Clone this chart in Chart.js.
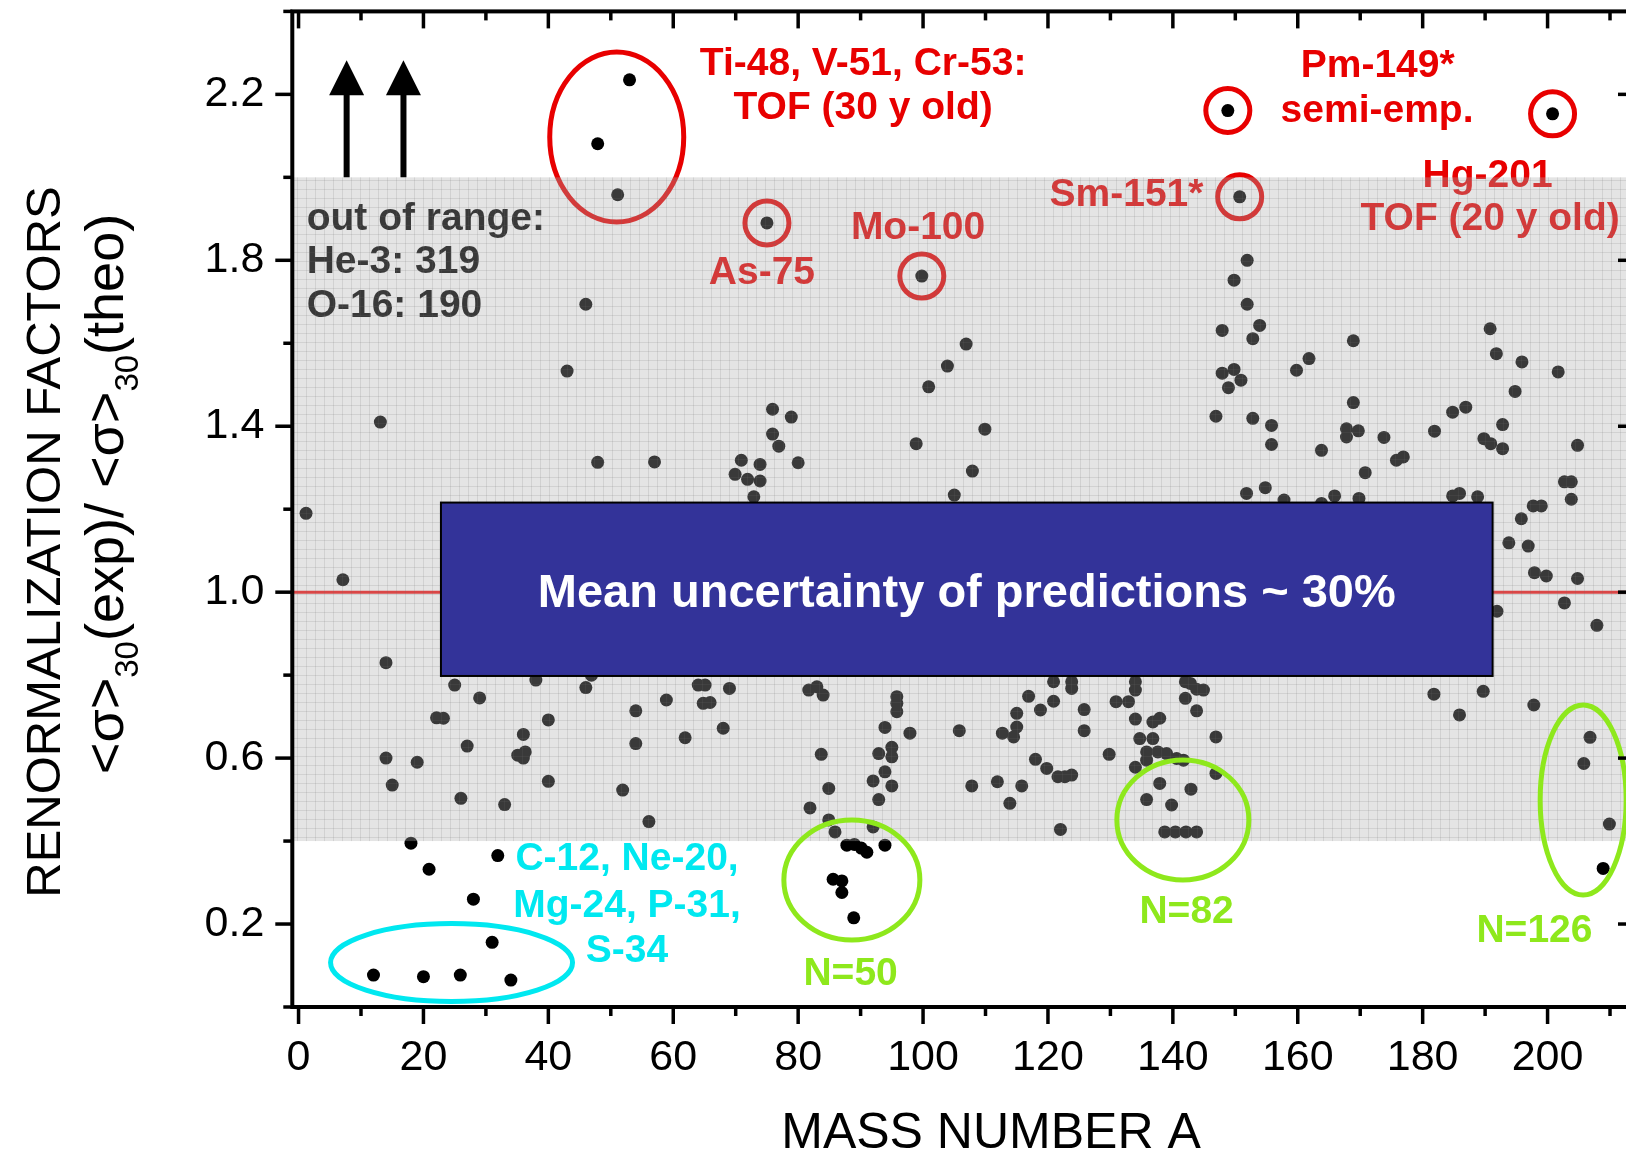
<!DOCTYPE html>
<html lang="en">
<head>
<meta charset="UTF-8">
<title>Renormalization factors vs mass number</title>
<script src="https://cdn.jsdelivr.net/npm/chart.js"></script>
<style>
  html, body { margin: 0; padding: 0; background: #fff; overflow: hidden; }
</style>
</head>
<body>
<canvas id="renormChart" width="1644" height="1154"></canvas>
<script>
// mass number A of each measured isotope
const massNumber = [
  1.2, 7.1, 12.0, 13.1, 14.0, 14.0, 15.0, 18.0, 19.0, 20.0,
  20.9, 22.1, 23.2, 25.0, 25.9, 26.0, 27.0, 28.0, 29.0, 31.0,
  31.9, 33.0, 34.0, 35.1, 36.0, 36.0, 36.3, 38.0, 40.0, 40.0,
  43.0, 46.0, 46.0, 46.9, 47.9, 47.9, 51.1, 51.9, 53.0, 54.0,
  54.0, 56.1, 57.0, 58.9, 61.9, 64.0, 64.8, 65.1, 65.9, 68.0,
  69.0, 69.9, 70.9, 71.9, 72.9, 73.9, 73.9, 75.0, 75.9, 75.9,
  76.9, 78.9, 80.0, 81.7, 81.9, 83.0, 83.7, 84.0, 84.9, 84.9,
  85.6, 85.9, 87.0, 87.0, 87.8, 88.9, 89.0, 90.1, 91.0, 92.0,
  92.0, 92.9, 92.9, 93.9, 93.9, 93.9, 95.0, 95.0, 95.0, 95.8,
  95.8, 95.8, 97.9, 98.9, 99.8, 100.9, 103.9, 105.0, 105.8, 106.9,
  107.8, 107.9, 109.9, 111.9, 112.7, 113.9, 114.5, 115.0, 115.0, 115.8,
  116.9, 118.0, 118.8, 119.8, 120.9, 120.9, 121.6, 122.0, 122.7, 123.8,
  123.8, 123.8, 125.8, 125.8, 129.8, 130.9, 132.9, 134.0, 134.0, 134.0,
  134.0, 134.7, 135.8, 135.8, 135.8, 136.8, 136.8, 137.6, 137.9, 137.9,
  138.7, 139.0, 139.8, 140.4, 140.6, 141.7, 142.0, 142.0, 142.1, 142.8,
  142.9, 143.8, 143.8, 143.8, 144.9, 146.9, 146.9, 146.9, 147.9, 147.9,
  148.8, 148.9, 149.8, 149.8, 150.7, 150.9, 151.8, 151.9, 151.9, 152.8,
  152.8, 153.9, 154.8, 155.8, 155.8, 157.8, 159.8, 161.8, 163.8, 163.8,
  165.9, 167.8, 167.8, 168.9, 168.9, 169.7, 169.8, 170.8, 173.8, 175.8,
  176.9, 181.8, 181.9, 184.8, 184.8, 185.9, 185.9, 186.9, 188.8, 189.7,
  189.8, 190.8, 190.9, 191.8, 191.9, 192.8, 192.8, 193.8, 194.8, 195.8,
  195.9, 196.9, 197.7, 197.8, 197.9, 199.0, 199.8, 200.8, 201.7, 202.7,
  202.7, 203.8, 203.8, 204.8, 204.8, 205.8, 206.8, 207.9, 208.9, 209.9
];

// <sigma>30(exp) / <sigma>30(theo), same order as massNumber
const renormFactor = [
  1.19, 1.03, 0.077, 1.41, 0.83, 0.60, 0.535, 0.395, 0.59, 0.073,
  0.332, 0.697, 0.696, 0.776, 0.077, 0.503, 0.629, 0.26, 0.745, 0.156,
  0.365, 0.488, 0.065, 0.607, 0.657, 0.60, 0.615, 0.788, 0.692, 0.544,
  1.533, 1.694, 0.77, 0.80, 2.081, 1.313, 1.958, 0.523, 2.235, 0.714,
  0.635, 0.447, 1.314, 0.74, 0.649, 0.776, 0.732, 0.776, 0.734, 0.672,
  0.768, 1.284, 1.318, 1.272, 1.23, 1.308, 1.268, 1.89, 1.441, 1.381,
  1.352, 1.422, 1.312, 0.764, 0.48, 0.772, 0.609, 0.752, 0.527, 0.451,
  0.308, 0.422, 0.304, 0.276, 0.39, 0.215, 0.392, 0.383, 0.373, 0.545,
  0.434, 0.611, 0.5, 0.674, 0.567, 0.39, 0.626, 0.603, 0.533, 0.748,
  0.732, 0.712, 0.66, 1.358, 1.762, 1.495, 1.545, 1.234, 0.666, 1.598,
  0.533, 1.292, 1.393, 0.543, 0.66, 0.491, 0.651, 0.675, 0.708, 0.533,
  0.749, 0.597, 0.716, 0.575, 0.737, 0.784, 0.555, 0.428, 0.555, 0.784,
  0.768, 0.559, 0.717, 0.666, 0.609, 0.736, 0.736, 0.784, 0.764, 0.694,
  0.578, 0.647, 0.615, 0.595, 0.5, 0.687, 0.647, 0.615, 0.696, 0.539,
  0.422, 0.611, 0.487, 0.422, 0.599, 0.595, 0.784, 0.744, 0.422, 0.78,
  0.525, 0.766, 0.714, 0.422, 0.764, 1.424, 0.651, 0.563, 1.631, 1.528,
  2.161, 1.493, 1.752, 1.537, 1.953, 1.511, 1.238, 1.8, 1.694, 1.611,
  1.419, 1.643, 1.252, 1.402, 1.356, 1.222, 1.535, 1.563, 1.342, 1.214,
  1.232, 1.394, 1.374, 1.606, 1.457, 1.389, 1.226, 1.288, 1.373, 1.318,
  1.326, 0.754, 1.388, 1.434, 1.232, 1.238, 0.704, 1.446, 1.23, 0.761,
  1.37, 1.635, 1.358, 1.575, 0.954, 1.404, 1.346, 1.119, 1.484, 1.177,
  1.555, 1.111, 1.208, 0.728, 1.047, 1.208, 1.039, 2.153, 1.531, 1.266,
  0.974, 1.266, 1.224, 1.354, 1.033, 0.587, 0.65, 0.92, 0.334, 0.441
];

// axis ticks
const xTickValues = [0, 20, 40, 60, 80, 100, 120, 140, 160, 180, 200];
const xMinorTicks = [10, 30, 50, 70, 90, 110, 130, 150, 170, 190, 210];
const yTickValues = [0.2, 0.6, 1.0, 1.4, 1.8, 2.2];
const yMinorTicks = [0.0, 0.4, 0.8, 1.2, 1.6, 2.0, 2.4];

// shaded band of "normal" factors and the mean line
const bandLow = 0.4;
const bandHigh = 2.0;
const meanFactor = 1.0;

// ringed isotopes (A, factor)
const ringedA = [75.0, 99.8, 148.8, 150.7, 200.8];
const ringedF = [1.89, 1.762, 2.161, 1.953, 2.153];

// isotopes off the top of the scale
const offScaleA = [7.7, 16.8];
const offScaleText = ['out of range:', 'He-3: 319', 'O-16: 190'];

// red notes: text, A, factor at baseline, alignment
const redNotes = [
  ['Ti-48, V-51, Cr-53:', 90.4, 2.246, 'center'],
  ['TOF (30 y old)', 90.4, 2.141, 'center'],
  ['As-75', 74.2, 1.744, 'center'],
  ['Mo-100', 99.2, 1.852, 'center'],
  ['Sm-151*', 144.9, 1.930, 'right'],
  ['Pm-149*', 172.8, 2.242, 'center'],
  ['semi-emp.', 172.7, 2.133, 'center'],
  ['Hg-201', 190.4, 1.977, 'center'],
  ['TOF (20 y old)', 190.8, 1.872, 'center']
];
const lightNotes = [
  ['C-12, Ne-20,', 52.6, 0.330],
  ['Mg-24, P-31,', 52.6, 0.218],
  ['S-34', 52.6, 0.109]
];
const shellNotes = [
  ['N=50', 88.4, 0.053],
  ['N=82', 142.2, 0.202],
  ['N=126', 197.9, 0.157]
];
// group ellipses: centre A, centre factor, radii in px
const shellEllipses = [
  [88.6, 0.306, 68, 60],
  [141.6, 0.451, 66, 60],
  [205.7, 0.499, 43, 95]
];

const FONT = '"Liberation Sans", Arial, Helvetica, sans-serif';
const RED = 'rgb(232,0,0)';
const CYAN = 'rgb(0,232,240)';
const GREEN = 'rgb(142,232,28)';

function ellipse(ctx, x, y, rx, ry, color, w) {
  ctx.save();
  ctx.strokeStyle = color;
  ctx.lineWidth = w;
  ctx.beginPath();
  ctx.ellipse(x, y, rx, ry, 0, 0, Math.PI * 2);
  ctx.stroke();
  ctx.restore();
}

function label(ctx, text, x, y, color, align, size) {
  ctx.save();
  ctx.font = 'bold ' + size + 'px ' + FONT;
  ctx.fillStyle = color;
  ctx.textAlign = align;
  ctx.textBaseline = 'alphabetic';
  ctx.fillText(text, x, y);
  ctx.restore();
}

function bandPattern(ctx) {
  const c = document.createElement('canvas');
  c.width = 9; c.height = 9;
  const g = c.getContext('2d');
  g.fillStyle = 'rgba(172,172,172,0.33)';
  g.fillRect(0, 0, 9, 9);
  g.fillStyle = 'rgba(110,110,110,0.16)';
  g.fillRect(0, 0, 9, 1);
  g.fillRect(0, 0, 1, 9);
  return ctx.createPattern(c, 'repeat');
}

const overlays = {
  id: 'overlays',
  beforeDatasetsDraw(chart) {
    const { ctx, chartArea: a, scales: { y } } = chart;
    const ym = y.getPixelForValue(meanFactor);
    ctx.save();
    ctx.strokeStyle = 'rgb(240,20,20)';
    ctx.lineWidth = 3;
    ctx.beginPath();
    ctx.moveTo(a.left, ym);
    ctx.lineTo(a.right, ym);
    ctx.stroke();
    ctx.restore();
  },
  afterDatasetsDraw(chart) {
    const { ctx, chartArea: a, scales: { x, y } } = chart;
    const px = v => x.getPixelForValue(v);
    const py = v => y.getPixelForValue(v);

    // red notes, rings and the Ti/V/Cr ellipse
    redNotes.forEach(n => label(ctx, n[0], px(n[1]), py(n[2]), RED, n[3], 39));
    ringedA.forEach((v, i) => ellipse(ctx, px(v), py(ringedF[i]), 22, 22, RED, 5));
    ellipse(ctx, px(50.95), py(2.097), 67, 85, RED, 5);

    // out-of-range arrows and list
    ctx.save();
    ctx.fillStyle = '#000';
    offScaleA.forEach(v => {
      const cx = px(v), tip = py(2.282), base = py(bandHigh);
      ctx.fillRect(cx - 3, tip + 30, 6, base - tip - 30);
      ctx.beginPath();
      ctx.moveTo(cx, tip);
      ctx.lineTo(cx - 17.5, tip + 35);
      ctx.lineTo(cx + 17.5, tip + 35);
      ctx.closePath();
      ctx.fill();
    });
    ctx.restore();
    [1.872, 1.769, 1.663].forEach((f, i) => label(ctx, offScaleText[i], px(1.3), py(f), '#000', 'left', 39));

    // shaded band
    ctx.save();
    ctx.fillStyle = bandPattern(ctx);
    ctx.fillRect(a.left, py(bandHigh), a.right - a.left, py(bandLow) - py(bandHigh));
    ctx.restore();

    // summary box
    const bx0 = px(22.8), bx1 = px(191.2), by0 = py(1.216), by1 = py(0.798);
    ctx.save();
    ctx.fillStyle = '#333399';
    ctx.fillRect(bx0, by0, bx1 - bx0, by1 - by0);
    ctx.strokeStyle = '#000';
    ctx.lineWidth = 2;
    ctx.strokeRect(bx0, by0, bx1 - bx0, by1 - by0);
    ctx.restore();
    label(ctx, 'Mean uncertainty of predictions ~ 30%', (bx0 + bx1) / 2, py(0.9646), '#fff', 'center', 47);

    // light nuclei and closed shells
    ellipse(ctx, px(24.5), py(0.107), 121, 39, CYAN, 5);
    lightNotes.forEach(n => label(ctx, n[0], px(n[1]), py(n[2]), CYAN, 'center', 39));
    shellEllipses.forEach(e => ellipse(ctx, px(e[0]), py(e[1]), e[2], e[3], GREEN, 5));
    shellNotes.forEach(n => label(ctx, n[0], px(n[1]), py(n[2]), GREEN, 'center', 39));
  },
  afterDraw(chart) {
    const { ctx, chartArea: a, scales: { x, y } } = chart;
    const seg = (x0, y0, x1, y1) => { ctx.beginPath(); ctx.moveTo(x0, y0); ctx.lineTo(x1, y1); ctx.stroke(); };
    ctx.save();
    ctx.strokeStyle = '#000';
    ctx.lineWidth = 4;
    ctx.strokeRect(a.left, a.top, a.right - a.left, a.bottom - a.top);
    ctx.lineWidth = 3.5;
    const big = 17, small = 9;
    xTickValues.forEach(v => { const p = x.getPixelForValue(v); seg(p, a.bottom, p, a.bottom + big); seg(p, a.top, p, a.top + big); });
    xMinorTicks.forEach(v => { const p = x.getPixelForValue(v); seg(p, a.bottom, p, a.bottom + small); seg(p, a.top, p, a.top + small); });
    yTickValues.forEach(v => { const p = y.getPixelForValue(v); seg(a.left - big, p, a.left, p); seg(a.right - big, p, a.right, p); });
    yMinorTicks.forEach(v => { const p = y.getPixelForValue(v); seg(a.left - small, p, a.left, p); seg(a.right - small, p, a.right, p); });
    ctx.restore();

    // axis titles
    ctx.save();
    ctx.fillStyle = '#000';
    ctx.textBaseline = 'alphabetic';
    ctx.font = '50px ' + FONT;
    ctx.textAlign = 'center';
    ctx.fillText('MASS NUMBER A', 991, 1148);

    ctx.translate(60, 542);
    ctx.rotate(-Math.PI / 2);
    ctx.font = '49px ' + FONT;
    ctx.fillText('RENORMALIZATION FACTORS', 0, 0);
    ctx.restore();

    // second title line with subscripts
    const parts = [['<σ>', 0], ['30', 1], ['(exp)/ <σ>', 0], ['30', 1], ['(theo)', 0]];
    const big2 = '54px ' + FONT, sub2 = '33px ' + FONT;
    ctx.save();
    let total = 0;
    parts.forEach(p => { ctx.font = p[1] ? sub2 : big2; total += ctx.measureText(p[0]).width; });
    ctx.translate(123, 494);
    ctx.rotate(-Math.PI / 2);
    ctx.fillStyle = '#000';
    ctx.textAlign = 'left';
    let cx = -total / 2;
    parts.forEach(p => {
      ctx.font = p[1] ? sub2 : big2;
      ctx.fillText(p[0], cx, p[1] ? 15 : 0);
      cx += ctx.measureText(p[0]).width;
    });
    ctx.restore();
  }
};

const points = massNumber.map((a, i) => ({ x: a, y: renormFactor[i] }));

new Chart(document.getElementById('renormChart'), {
  type: 'scatter',
  data: {
    datasets: [{
      data: points,
      backgroundColor: '#000',
      borderWidth: 0,
      pointRadius: 6.5,
      pointHoverRadius: 6.5
    }]
  },
  options: {
    responsive: false,
    animation: false,
    events: [],
    layout: { padding: { top: 11.4, right: 9, left: 0, bottom: 0 } },
    plugins: { legend: { display: false }, tooltip: { enabled: false } },
    scales: {
      x: {
        type: 'linear',
        min: -1,
        max: 214,
        afterBuildTicks: s => { s.ticks = xTickValues.map(v => ({ value: v })); },
        afterFit: s => { s.height = 147; s.paddingLeft = 0; s.paddingRight = 0; },
        grid: { display: false, drawTicks: false },
        border: { display: false },
        ticks: {
          padding: 25,
          autoSkip: false,
          maxRotation: 0,
          color: '#000',
          font: { family: FONT, size: 43 },
          callback: v => String(v)
        }
      },
      y: {
        type: 'linear',
        min: 0,
        max: 2.4,
        afterBuildTicks: s => { s.ticks = yTickValues.map(v => ({ value: v })); },
        afterFit: s => { s.width = 292.3; s.paddingTop = 0; s.paddingBottom = 0; },
        grid: { display: false, drawTicks: false },
        border: { display: false },
        ticks: {
          padding: 28,
          autoSkip: false,
          color: '#000',
          font: { family: FONT, size: 43 },
          callback: v => Number(v).toFixed(1)
        }
      }
    }
  },
  plugins: [overlays]
});
</script>
</body>
</html>
